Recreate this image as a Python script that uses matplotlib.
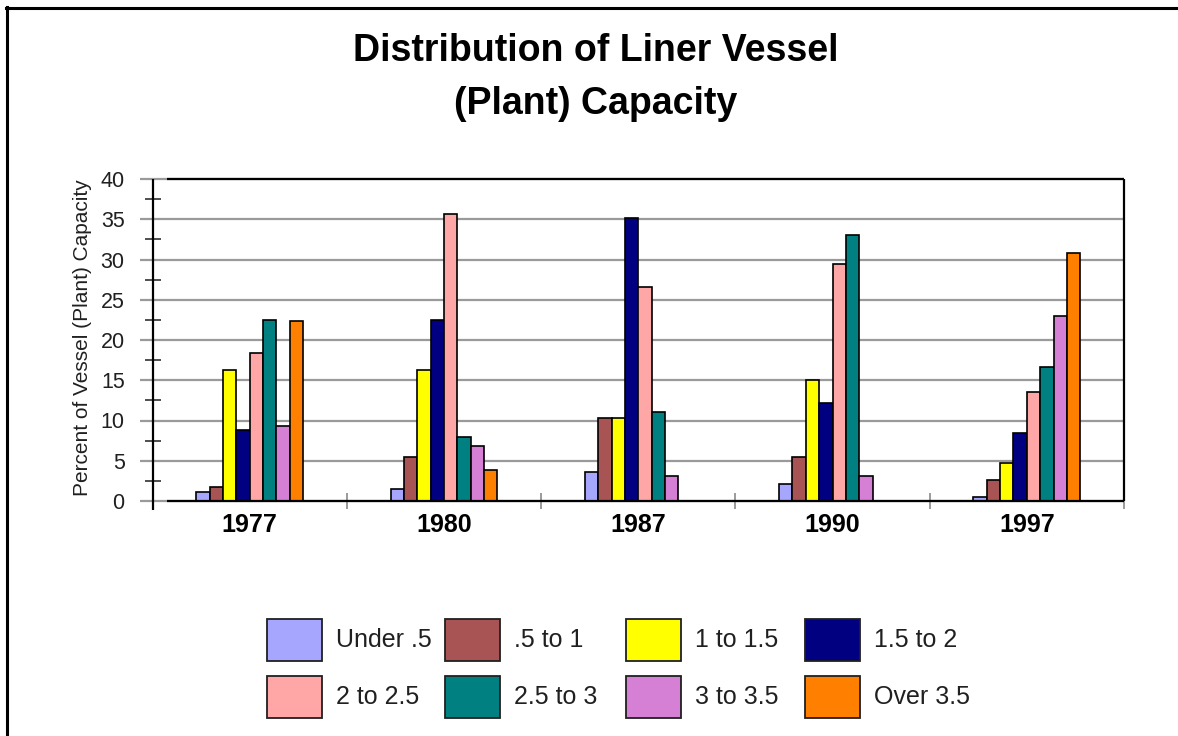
import matplotlib
matplotlib.use("Agg")
import matplotlib.pyplot as plt
from matplotlib.patches import Rectangle
from matplotlib.lines import Line2D
from matplotlib.ticker import FixedLocator, NullFormatter, FixedFormatter

plt.rcParams['font.family'] = ['Liberation Sans', 'DejaVu Sans']

# Data: percent of vessel (plant) capacity by size class and year
years = ["1977", "1980", "1987", "1990", "1997"]
size_classes = ["Under .5", ".5 to 1", "1 to 1.5", "1.5 to 2",
                "2 to 2.5", "2.5 to 3", "3 to 3.5", "Over 3.5"]
under_05 = [1.1, 1.5, 3.6, 2.1, 0.5]
from_05_to_1 = [1.8, 5.5, 10.3, 5.5, 2.6]
from_1_to_15 = [16.3, 16.3, 10.3, 15.0, 4.7]
from_15_to_2 = [8.8, 22.5, 35.2, 12.2, 8.5]
from_2_to_25 = [18.4, 35.7, 26.6, 29.5, 13.5]
from_25_to_3 = [22.5, 8.0, 11.1, 33.1, 16.6]
from_3_to_35 = [9.3, 6.8, 3.1, 3.1, 23.0]
over_35 = [22.3, 3.9, 0.0, 0.0, 30.8]
series = [under_05, from_05_to_1, from_1_to_15, from_15_to_2,
          from_2_to_25, from_25_to_3, from_3_to_35, over_35]
colors = ["#A6A6FF", "#A85454", "#FFFF00", "#000080",
          "#FFA6A6", "#008080", "#D580D5", "#FF8000"]
y_ticks = [0, 5, 10, 15, 20, 25, 30, 35, 40]

W, H = 1178, 736
fig = plt.figure(figsize=(W / 100, H / 100), dpi=100)
fig.patch.set_facecolor("white")


def fx(px):
    return px / W


def fy(py):
    return 1 - py / H


# outer frame (top and left edges)
fig.add_artist(Line2D([fx(6), 1.0], [fy(7.5), fy(7.5)], color="black", lw=2.2))
fig.add_artist(Line2D([fx(7), fx(7)], [fy(6.5), 0.0], color="black", lw=2.2))

# title
fig.text(fx(596), fy(51), "Distribution of Liner Vessel", ha="center", va="center",
         fontsize=27, fontweight="bold")
fig.text(fx(596), fy(104), "(Plant) Capacity", ha="center", va="center",
         fontsize=27, fontweight="bold")

ax_l, ax_r, ax_t, ax_b = 152.5, 1124, 179, 501
ax = fig.add_axes([fx(ax_l), fy(ax_b), fx(ax_r - ax_l), (ax_b - ax_t) / H])
ax.set_xlim(0, len(years))
ax.set_ylim(0, 40)
for s in ax.spines.values():
    s.set_visible(False)

cat_px = (ax_r - ax_l) / len(years)
unit_px = (ax_b - ax_t) / 40.0
grid_col = "#9a9a9a"

# horizontal gridlines, extending to the left of the value axis
for yv in y_ticks:
    ax.plot([-13 / cat_px, len(years)], [yv, yv], color=grid_col, lw=1.6,
            clip_on=False, zorder=1, solid_capstyle="butt")
# plot-area border (top, bottom, right)
off = 14 / cat_px
ax.plot([off, len(years)], [40, 40], color="black", lw=1.6, clip_on=False, zorder=4,
        solid_capstyle="butt")
ax.plot([off, len(years)], [0, 0], color="black", lw=1.6, clip_on=False, zorder=4,
        solid_capstyle="butt")
ax.plot([len(years), len(years)], [0, 40], color="black", lw=1.6, clip_on=False,
        zorder=4, solid_capstyle="butt")
# value axis line
ax.plot([0, 0], [-9 / unit_px, 40], color="black", lw=1.6, clip_on=False, zorder=4,
        solid_capstyle="butt")

# bars
n = len(series)
group = 0.55
bw = group / n
for i, (vals, col) in enumerate(zip(series, colors)):
    xs = [j + 0.5 - group / 2 + bw * (i + 0.5) for j in range(len(years))]
    ax.bar(xs, vals, width=bw, color=col, edgecolor="black", linewidth=1.2, zorder=3)

# y ticks
ax.yaxis.set_major_locator(FixedLocator(y_ticks))
ax.yaxis.set_minor_locator(FixedLocator([2.5 + 5 * k for k in range(8)]))
ax.tick_params(axis="y", which="major", length=0, pad=20, labelsize=15.5,
               labelcolor="#202020")
ax.tick_params(axis="y", which="minor", direction="inout", length=12, width=1.2,
               color="#303030")

# x ticks: category boundaries and centred year labels
ax.xaxis.set_major_locator(FixedLocator(list(range(1, len(years) + 1))))
ax.xaxis.set_major_formatter(NullFormatter())
ax.xaxis.set_minor_locator(FixedLocator([j + 0.5 for j in range(len(years))]))
ax.xaxis.set_minor_formatter(FixedFormatter(years))
ax.tick_params(axis="x", which="major", direction="inout", length=12, width=1.2,
               color="#8a8a8a")
ax.tick_params(axis="x", which="minor", length=0, pad=9, labelsize=18)
for lab in ax.get_xticklabels(minor=True):
    lab.set_fontweight("bold")

fig.text(fx(83), fy(338), "Percent of Vessel (Plant) Capacity", rotation=90,
         ha="center", va="center", fontsize=15, color="#202020")

# legend
col_x = [267, 445, 626, 805]
row_y = [619, 676]
bw_px, bh_px = 55, 42
for k, (name, col) in enumerate(zip(size_classes, colors)):
    r, c = divmod(k, 4)
    x0, y0 = col_x[c], row_y[r]
    fig.add_artist(Rectangle((fx(x0), fy(y0 + bh_px)), fx(bw_px), bh_px / H,
                             transform=fig.transFigure, facecolor=col,
                             edgecolor="#202020", linewidth=1.3))
    fig.text(fx(x0 + bw_px + 14), fy(y0 + bh_px / 2), name, ha="left", va="center",
             fontsize=18, color="#202020")

fig.savefig("out.png", dpi=100, facecolor="white")
